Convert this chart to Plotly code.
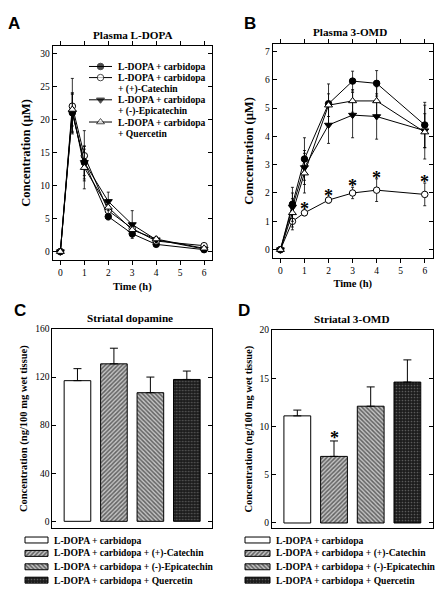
import plotly.graph_objects as go

# ---------------- data ----------------
time_h = [0, 0.5, 1, 2, 3, 4, 6]
series_lines = [
    ["L-DOPA + carbidopa"],
    ["L-DOPA + carbidopa", "+ (+)-Catechin"],
    ["L-DOPA + carbidopa", "+ (-)-Epicatechin"],
    ["L-DOPA + carbidopa", "+ Quercetin"],
]
# Plasma L-DOPA (µM)
ldopa_ctrl = [0, 21.0, 13.5, 5.3, 2.7, 1.1, 0.3]
ldopa_ctrl_err = [0, 2.8, 2.0, 0.5, 0.5, 0.3, 0.2]
ldopa_cat = [0, 22.0, 14.5, 6.2, 3.5, 1.6, 0.9]
ldopa_cat_err = [0, 4.2, 3.8, 0.8, 0.6, 0.4, 0.2]
ldopa_epi = [0, 21.0, 13.5, 7.6, 4.1, 1.8, 0.4]
ldopa_epi_err = [0, 3.0, 2.5, 1.4, 2.1, 0.4, 0.2]
ldopa_que = [0, 21.5, 12.7, 6.7, 3.3, 1.9, 0.5]
ldopa_que_err = [0, 2.5, 3.2, 1.0, 0.8, 0.4, 0.2]

# Plasma 3-OMD (µM)
omd_ctrl = [0, 1.6, 3.2, 5.15, 5.95, 5.87, 4.4]
omd_ctrl_err = [0, 0.6, 0.75, 0.7, 0.35, 0.45, 0.8]
omd_cat = [0, 1.0, 1.3, 1.75, 2.0, 2.1, 1.95]
omd_cat_err = [0, 0.3, 0.1, 0.1, 0.2, 0.4, 0.4]
omd_epi = [0, 1.5, 2.9, 4.4, 4.75, 4.7, 4.2]
omd_epi_err = [0, 0.5, 0.6, 0.65, 0.8, 0.8, 0.6]
omd_que = [0, 1.3, 2.7, 5.1, 5.25, 5.25, 4.15]
omd_que_err = [0, 0.5, 0.7, 0.4, 0.4, 0.5, 0.95]
omd_sig_times = [1, 2, 3, 4, 6]

# Striatal bars
bar_groups = [
    "L-DOPA + carbidopa",
    "L-DOPA + carbidopa + (+)-Catechin",
    "L-DOPA + carbidopa + (-)-Epicatechin",
    "L-DOPA + carbidopa + Quercetin",
]
dopamine = [117, 131, 107, 118]
dopamine_err = [10, 13, 13, 7]
str_omd = [11.1, 6.9, 12.1, 14.6]
str_omd_err = [0.6, 1.6, 2.0, 2.3]
str_omd_sig = [False, True, False, False]

# ---------------- styling ----------------
SERIF = "Liberation Serif"
SANS = "Liberation Sans"
W, H = 443, 600
markers = [
    dict(symbol="circle", fill="black", size=6.5),
    dict(symbol="circle", fill="white", size=6.5),
    dict(symbol="triangle-down", fill="black", size=7),
    dict(symbol="triangle-up", fill="white", size=7),
]
patterns = [
    None,
    dict(shape="/", fgcolor="black", bgcolor="#c4c4c4", size=3, solidity=0.5),
    dict(shape="\\", fgcolor="black", bgcolor="#c4c4c4", size=3, solidity=0.5),
    dict(shape=".", fgcolor="#9a9a9a", bgcolor="#1c1c1c", size=3, solidity=0.25),
]

def bar_marker(i):
    p = patterns[i]
    m = dict(color="white" if p is None else p["bgcolor"], line=dict(color="black", width=1))
    if p is not None:
        m["pattern"] = p
    return m

fig = go.Figure()

def add_lines(xa, ya, vals, errs):
    for i, (v, e) in enumerate(zip(vals, errs)):
        m = markers[i]
        fig.add_trace(go.Scatter(
            x=time_h, y=v, xaxis=xa, yaxis=ya, mode="lines+markers", showlegend=False,
            line=dict(color="black", width=1),
            marker=dict(symbol=m["symbol"], color=m["fill"], size=m["size"],
                        line=dict(color="black", width=1)),
            error_y=dict(type="data", array=e, color="black", thickness=0.8, width=1.5),
        ))

add_lines("x", "y", [ldopa_ctrl, ldopa_cat, ldopa_epi, ldopa_que],
          [ldopa_ctrl_err, ldopa_cat_err, ldopa_epi_err, ldopa_que_err])
add_lines("x2", "y2", [omd_ctrl, omd_cat, omd_epi, omd_que],
          [omd_ctrl_err, omd_cat_err, omd_epi_err, omd_que_err])

def add_bars(xa, ya, vals, errs):
    for i, (v, e) in enumerate(zip(vals, errs)):
        fig.add_trace(go.Bar(
            x=[i], y=[v], xaxis=xa, yaxis=ya, width=0.73, showlegend=False,
            marker=bar_marker(i),
            error_y=dict(type="data", array=[e], symmetric=False, arrayminus=[0],
                         color="black", thickness=1, width=4),
        ))

add_bars("x3", "y3", dopamine, dopamine_err)
add_bars("x4", "y4", str_omd, str_omd_err)

ann = []
ast_font = dict(family=SERIF, size=18, color="#000000")
idx = {t: k for k, t in enumerate(time_h)}
for t in omd_sig_times:
    k = idx[t]
    ann.append(dict(x=t, y=omd_cat[k] + omd_cat_err[k], xref="x2", yref="y2", yanchor="middle",
                    yshift=1, text="<b>*</b>", showarrow=False, font=ast_font))
for i, s in enumerate(str_omd_sig):
    if s:
        ann.append(dict(x=i, y=str_omd[i] + str_omd_err[i], xref="x4", yref="y4", yanchor="middle",
                        yshift=3, text="<b>*</b>", showarrow=False, font=ast_font))

def px_x(p):
    return p / W
def px_y(p):
    return 1 - p / H

# ---------- legend keys, drawn on a pixel-space overlay axis ----------
LEG_A_X0, LEG_A_X1, LEG_A_TX = 89, 112, 116
LEG_A_TOP, LEG_A_LINE = 62, 11.2
leg_font = dict(family=SERIF, size=9.6, color="black")
row = 0
for i, lines in enumerate(series_lines):
    yrow = LEG_A_TOP + row * LEG_A_LINE
    m = markers[i]
    fig.add_trace(go.Scatter(
        x=[LEG_A_X0, (LEG_A_X0 + LEG_A_X1) / 2, LEG_A_X1], y=[yrow] * 3,
        xaxis="x5", yaxis="y5", mode="lines+markers", showlegend=False, hoverinfo="skip",
        line=dict(color="black", width=1),
        marker=dict(symbol=m["symbol"], color=m["fill"], size=[0, m["size"], 0],
                    line=dict(color="black", width=[0, 1, 0])),
    ))
    for j, ln in enumerate(lines):
        ann.append(dict(x=px_x(LEG_A_TX), y=px_y(yrow + j * LEG_A_LINE), xref="paper", yref="paper",
                        xanchor="left", yanchor="middle", showarrow=False,
                        text="<b>%s</b>" % ln, font=leg_font))
    row += len(lines)

BAR_LEG_ROWS_TOP, BAR_LEG_STEP = 539.5, 13.5
bar_leg_font = dict(family=SERIF, size=9.6, color="black")
for x0, x1, tx in [(25, 48, 52), (245, 270, 274)]:
    for i, name in enumerate(bar_groups):
        yrow = BAR_LEG_ROWS_TOP + i * BAR_LEG_STEP
        fig.add_trace(go.Bar(
            x=[x1 - x0], base=[x0], y=[yrow], orientation="h", width=[6],
            xaxis="x5", yaxis="y5", showlegend=False, hoverinfo="skip",
            marker=bar_marker(i),
        ))
        ann.append(dict(x=px_x(tx), y=px_y(yrow), xref="paper", yref="paper",
                        xanchor="left", yanchor="middle", showarrow=False,
                        text="<b>%s</b>" % name, font=bar_leg_font))

# panel letters and titles
for txt, x, y in [("A", 6, 19), ("B", 242, 19), ("C", 12, 308), ("D", 236, 308)]:
    ann.append(dict(x=px_x(x), y=px_y(y), xref="paper", yref="paper", text="<b>%s</b>" % txt,
                    showarrow=False, xanchor="left", yanchor="middle",
                    font=dict(family=SANS, size=17, color="black")))
for txt, x, y in [("Plasma L-DOPA", 133, 30), ("Plasma 3-OMD", 350, 27.5),
                  ("Striatal dopamine", 130, 315.5), ("Striatal 3-OMD", 352, 316.5)]:
    ann.append(dict(x=px_x(x), y=px_y(y), xref="paper", yref="paper", text="<b>%s</b>" % txt,
                    showarrow=False, xanchor="center", yanchor="middle",
                    font=dict(family=SERIF, size=11.2, color="black")))

tickfont = dict(family=SERIF, size=9.5, color="black")

def ax(domain, rng, **kw):
    d = dict(domain=domain, range=rng, showline=True, linecolor="black", linewidth=1,
             mirror="allticks", ticks="inside", ticklen=4, tickcolor="black", tickwidth=1,
             showgrid=False, zeroline=False, tickfont=tickfont, fixedrange=True)
    d.update(kw)
    return d

def ttl(text, size, standoff):
    return dict(text="<b>%s</b>" % text, font=dict(family=SERIF, size=size, color="black"),
                standoff=standoff)

fig.update_layout(
    width=W, height=H, margin=dict(l=0, r=0, t=0, b=0),
    paper_bgcolor="white", plot_bgcolor="rgba(0,0,0,0)", barmode="overlay",
    showlegend=False, annotations=ann,
    xaxis=ax([px_x(52.7), px_x(212)], [-0.32, 6.33], anchor="y", dtick=1, tick0=0,
             ticks="outside", title=ttl("Time (h)", 10.5, 5)),
    yaxis=ax([px_y(256.7), px_y(41.7)], [-1.2, 31.05], anchor="x", dtick=5,
             title=ttl("Concentration (µM)", 12.5, 6)),
    xaxis2=ax([px_x(272.7), px_x(432.7)], [-0.32, 6.33], anchor="y2", dtick=1, tick0=0,
              ticks="outside", title=ttl("Time (h)", 10.5, 4)),
    yaxis2=ax([px_y(255), px_y(39.3)], [-0.29, 7.26], anchor="x2", dtick=1,
              title=ttl("Concentration (µM)", 12.5, 8)),
    xaxis3=ax([px_x(52.3), px_x(212)], [-0.69, 3.69], anchor="y3", showticklabels=False,
              ticks=""),
    yaxis3=ax([px_y(527.7), px_y(326.7)], [-5.8, 160], anchor="x3", dtick=40,
              title=ttl("Concentration (ng/100 mg wet tissue)", 10.5, 5)),
    xaxis4=ax([px_x(272), px_x(432.7)], [-0.69, 3.69], anchor="y4", showticklabels=False,
              ticks=""),
    yaxis4=ax([px_y(527.7), px_y(327.7)], [-0.55, 20], anchor="x4", dtick=5,
              title=ttl("Concentration (ng/100 mg wet tissue)", 10.5, 4)),
    xaxis5=dict(domain=[0, 1], range=[0, W], visible=False, anchor="y5", fixedrange=True),
    yaxis5=dict(domain=[0, 1], range=[H, 0], visible=False, anchor="x5", fixedrange=True),
)

fig.write_html("out.html", config={"displayModeBar": False},
               post_script="document.body.style.margin='0';document.body.style.overflow='hidden';")
